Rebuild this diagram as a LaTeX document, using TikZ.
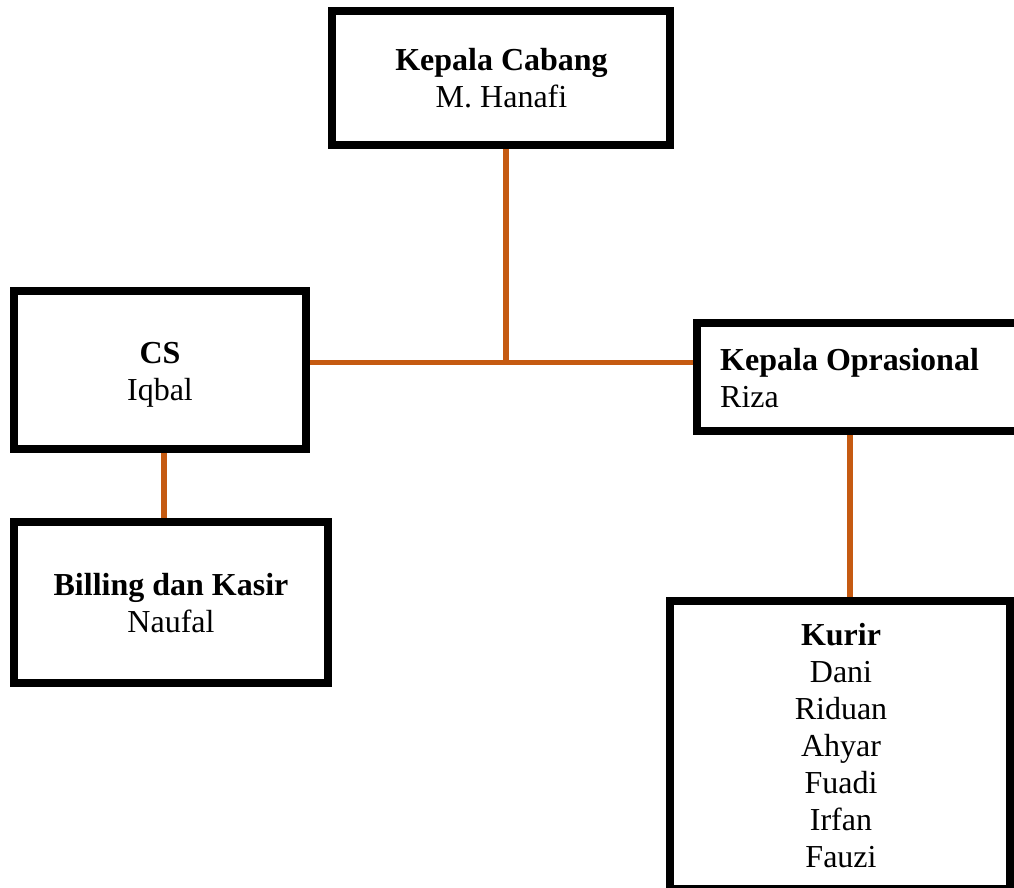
\documentclass[tikz,border=0pt]{standalone}
\usepackage{fontspec}
\setmainfont{Liberation Serif}
\definecolor{conn}{HTML}{C55A11}
\begin{document}
\begin{tikzpicture}[x=1pt,y=-1pt,
  box/.style={draw=black,line width=8pt,fill=white,rectangle,inner sep=0pt},
  txt/.style={inner sep=0pt,font=\fontsize{32}{37}\selectfont},
  link/.style={draw=conn,line width=5.5pt}]
\useasboundingbox (0,0) rectangle (1014,888);
\clip (0,0) rectangle (1014,888);
% boxes
\node[box,minimum width=338pt,minimum height=134pt] (kc) at (501,78) {};
\node[box,minimum width=292pt,minimum height=158pt] (cs) at (160,370) {};
\node[box,minimum width=314pt,minimum height=161pt] (bk) at (171,602.5) {};
\node[box,minimum width=333pt,minimum height=108pt] (ko) at (863.5,377) {};
\node[box,minimum width=340pt,minimum height=288pt] (ku) at (840,745) {};
% texts
\node[txt,anchor=base] (kct) at (501.5,71) {\begin{tabular}[t]{@{}c@{}}\textbf{Kepala Cabang}\\M. Hanafi\end{tabular}};
\node[txt,anchor=base] (cst) at (160,363) {\begin{tabular}[t]{@{}c@{}}\textbf{CS}\\Iqbal\end{tabular}};
\node[txt,anchor=base] (bkt) at (171,595) {\begin{tabular}[t]{@{}c@{}}\textbf{Billing dan Kasir}\\Naufal\end{tabular}};
\node[txt,anchor=base west] (kot) at (720,370) {\begin{tabular}[t]{@{}l@{}}\textbf{Kepala Oprasional}\\Riza\end{tabular}};
\node[txt,anchor=base] (kut) at (841,645) {\begin{tabular}[t]{@{}c@{}}\textbf{Kurir}\\Dani\\Riduan\\Ahyar\\Fuadi\\Irfan\\Fauzi\end{tabular}};
% connectors
\coordinate (j) at (506,362.5);
\coordinate (c1) at (164,0);
\coordinate (c2) at (850,0);
\draw[link] (kc.south -| j) -- (j);
\draw[link] (cs.east |- j) -- (ko.west |- j);
\draw[link] (cs.south -| c1) -- (bk.north -| c1);
\draw[link] (ko.south -| c2) -- (ku.north -| c2);
\end{tikzpicture}
\end{document}
